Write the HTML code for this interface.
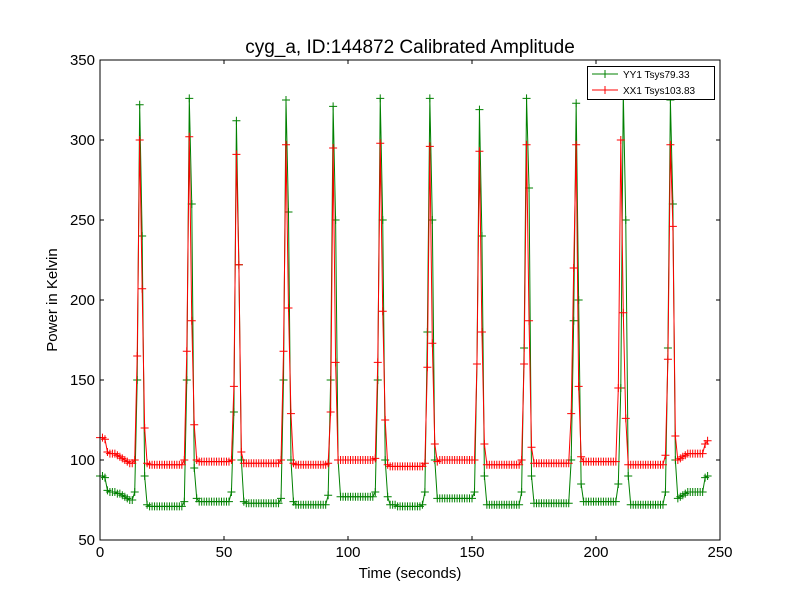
<!DOCTYPE html>
<html><head><meta charset="utf-8"><style>
html,body{margin:0;padding:0;background:#fff}
svg{display:block;font-family:"Liberation Sans","DejaVu Sans",sans-serif}
</style></head><body>
<svg id="chart" width="800" height="600" viewBox="0 0 800 600" xmlns="http://www.w3.org/2000/svg">
<rect x="0" y="0" width="800" height="600" fill="#fff"/>
<text x="410" y="53" font-size="19" text-anchor="middle">cyg_a, ID:144872 Calibrated Amplitude</text>
<text x="410" y="578" font-size="15" text-anchor="middle">Time (seconds)</text>
<text x="57" y="300" font-size="15" text-anchor="middle" transform="rotate(-90 57 300)">Power in Kelvin</text>
<g id="plot"></g>
<rect x="100" y="60" width="620" height="480" fill="none" stroke="#000" stroke-width="1"/>
<g id="ticks"></g>
<g>
<rect x="587.5" y="66.5" width="127" height="33" fill="#fff" stroke="#000"/>
<g>
<line x1="592" y1="74" x2="618" y2="74" stroke="#008000" stroke-width="1"/>
<line x1="601" y1="74" x2="609" y2="74" stroke="#008000"/><line x1="605" y1="70" x2="605" y2="78" stroke="#008000"/>
<text x="623" y="78" font-size="10">YY1 Tsys79.33</text></g>
<g>
<line x1="592" y1="90" x2="618" y2="90" stroke="#ff0000" stroke-width="1"/>
<line x1="601" y1="90" x2="609" y2="90" stroke="#ff0000"/><line x1="605" y1="86" x2="605" y2="94" stroke="#ff0000"/>
<text x="623" y="94" font-size="10">XX1 Tsys103.83</text></g>
</g>
</svg>
<script>
const xTicks=[0,50,100,150,200,250];
const yTicks=[50,100,150,200,250,300,350];
const t0=0, dt=1;
const yy1=[90,90,89,81,80,80,80,79,79,78,
77,76,75,75,80,150,322,240,90,72,
71,71,71,71,71,71,71,71,71,71,
71,71,71,71,74,150,326,260,95,76,
74,74,74,74,74,74,74,74,74,74,
74,74,74,80,130,312,222,100,74,73,
73,73,73,73,73,73,73,73,73,73,
73,73,73,76,150,325,255,100,74,72,
72,72,72,72,72,72,72,72,72,72,
72,72,78,150,321,250,100,77,77,77,
77,77,77,77,77,77,77,77,77,77,
77,80,150,326,250,100,77,72,72,72,
71,71,71,71,71,71,71,71,71,71,
72,80,180,326,250,100,76,76,76,76,
76,76,76,76,76,76,76,76,76,76,
76,80,160,319,240,90,72,72,72,72,
72,72,72,72,72,72,72,72,72,72,
80,170,326,270,90,73,73,73,73,73,
73,73,73,73,73,73,73,73,73,73,
100,187,323,200,85,74,74,74,74,74,
74,74,74,74,74,74,74,74,74,85,
145,330,250,90,72,72,72,72,72,72,
72,72,72,72,72,72,72,72,80,170,
325,260,100,76,77,78,79,80,80,80,
80,80,80,80,89,90];
const xx1=[114,114,113,105,104,104,104,103,102,101,
100,99,98,98,100,165,300,207,120,98,
97,97,97,97,97,97,97,97,97,97,
97,97,97,97,100,168,302,187,122,100,
99,99,99,99,99,99,99,99,99,99,
99,99,99,100,146,291,222,105,98,98,
98,98,98,98,98,98,98,98,98,98,
98,98,98,100,168,297,195,129,98,97,
97,97,97,97,97,97,97,97,97,97,
97,97,98,130,295,161,100,100,100,100,
100,100,100,100,100,100,100,100,100,100,
100,101,161,298,193,125,97,96,96,96,
96,96,96,96,96,96,96,96,96,96,
96,98,158,296,173,110,99,100,100,100,
100,100,100,100,100,100,100,100,100,100,
100,100,160,293,180,110,97,97,97,97,
97,97,97,97,97,97,97,97,97,97,
100,160,297,187,108,98,98,98,98,98,
98,98,98,98,98,98,98,98,98,98,
129,220,297,146,102,99,99,99,99,99,
99,99,99,99,99,99,99,99,99,145,
300,192,126,97,97,97,97,97,97,97,
97,97,97,97,97,97,97,97,103,163,
297,246,115,100,101,102,103,104,104,104,
104,104,104,104,110,112];
const NS='http://www.w3.org/2000/svg';
const X=v=>100+(v-0)*620/250;
const Y=v=>540-(v-50)*480/300;
function mk(tag,attrs,parent){const e=document.createElementNS(NS,tag);for(const k in attrs)e.setAttribute(k,attrs[k]);parent.appendChild(e);return e;}
const plot=document.getElementById('plot');
const ticks=document.getElementById('ticks');
function series(vals,color,name){
  const g=mk('g',{},plot);
  
  
  const pts=vals.map((v,i)=>X(t0+i*dt).toFixed(2)+','+Y(v).toFixed(2)).join(' ');
  const pl=mk('polyline',{points:pts,fill:'none',stroke:color,'stroke-width':1},g);
  
  
  let d='';
  vals.forEach((v,i)=>{const x=X(t0+i*dt),y=Y(v);d+=`M${x-4},${y}H${x+4}M${x},${y-4}V${y+4}`;});
  const m=mk('path',{d:d,stroke:color,'stroke-width':1,fill:'none'},g);
  
  
}
series(yy1,'#008000','series-yy1');
series(xx1,'#ff0000','series-xx1');
xTicks.forEach(v=>{
  const x=X(v);
  const a=mk('line',{x1:x,y1:540,x2:x,y2:536,stroke:'#000'},ticks);
  
  
  mk('line',{x1:x,y1:60,x2:x,y2:64,stroke:'#000'},ticks);
  const t=mk('text',{x:x,y:557,'font-size':15,'text-anchor':'middle'},ticks);
  
  
  t.textContent=v;
});
yTicks.forEach(v=>{
  const y=Y(v);
  const a=mk('line',{x1:100,y1:y,x2:104,y2:y,stroke:'#000'},ticks);
  
  
  mk('line',{x1:720,y1:y,x2:716,y2:y,stroke:'#000'},ticks);
  const t=mk('text',{x:95,y:y+5,'font-size':15,'text-anchor':'end'},ticks);
  
  
  t.textContent=v;
});
</script>
</body></html>
